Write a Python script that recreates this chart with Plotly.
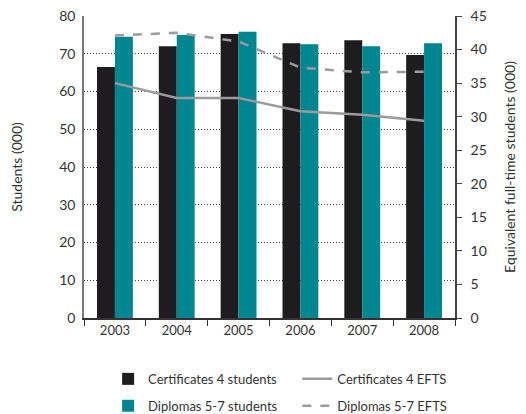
import plotly.graph_objects as go

years = ["2003", "2004", "2005", "2006", "2007", "2008"]
cert_students = [66.5, 72.0, 75.2, 72.8, 73.6, 69.7]
dip_students = [74.5, 75.0, 75.8, 72.5, 72.0, 72.8]
cert_efts = [35.0, 32.8, 32.8, 30.8, 30.3, 29.4]
dip_efts = [42.1, 42.5, 41.2, 37.3, 36.6, 36.7]

FONT = "Lato"
TXT = "#333333"
BLACK = "#1f1c20"
TEAL = "#008691"
GREY = "#9b9b9b"

fig = go.Figure()
fig.add_trace(go.Bar(x=years, y=cert_students, name="Certificates 4 students",
                     legend="legend", legendgroup="a",
                     marker=dict(color=BLACK, line=dict(width=0))))
fig.add_trace(go.Bar(x=years, y=dip_students, name="Diplomas 5-7 students",
                     legend="legend", legendgroup="b",
                     marker=dict(color=TEAL, line=dict(width=0))))
fig.add_trace(go.Scatter(x=years, y=cert_efts, name="Certificates 4 EFTS", yaxis="y2",
                         legend="legend2", legendgroup="c",
                         mode="lines", line=dict(color=GREY, width=2.5)))
fig.add_trace(go.Scatter(x=years, y=dip_efts, name="Diplomas 5-7 EFTS", yaxis="y2",
                         legend="legend2", legendgroup="d",
                         mode="lines", line=dict(color=GREY, width=2.5, dash="dash")))

legend_common = dict(orientation="v", y=-0.152, yanchor="top", xanchor="left",
                     font=dict(family=FONT, size=13, color=TXT),
                     traceorder="grouped", tracegroupgap=7, itemwidth=30,
                     bgcolor="rgba(0,0,0,0)")

fig.update_layout(
    width=526, height=414,
    margin=dict(l=76, r=79, t=8, b=104, autoexpand=False),
    paper_bgcolor="white", plot_bgcolor="white",
    font=dict(family=FONT, size=13, color=TXT),
    barmode="group", bargap=0.42, bargroupgap=0,
    showlegend=True,
    legend=dict(x=0.065, **legend_common),
    legend2=dict(x=0.575, **legend_common),
    xaxis=dict(type="category", tickson="boundaries", ticks="outside", ticklen=6,
               tickcolor=TXT, showline=True, linecolor=TXT, linewidth=1.5,
               showgrid=False, automargin=False, tickfont=dict(size=13, color=TXT)),
    yaxis=dict(range=[0, 80], dtick=10, showline=True, linecolor="#777777", linewidth=1.5,
               showgrid=True, gridcolor="#444444", griddash="1px,2px", gridwidth=1,
               ticks="", zeroline=False, automargin=False, ticklabelstandoff=4,
               ticklabeloverflow="allow",
               title=dict(text="Students (000)", font=dict(size=14, color=TXT), standoff=34),
               tickfont=dict(size=14, color=TXT)),
    yaxis2=dict(range=[0, 45], dtick=5, overlaying="y", side="right", showline=True,
                linecolor="#444444", linewidth=1.5, showgrid=False, zeroline=False,
                ticks="outside", ticklen=5, tickcolor="#444444", automargin=False,
                ticklabelstandoff=6, ticklabeloverflow="allow",
                title=dict(text="Equivalent full-time students (000)",
                           font=dict(size=14, color=TXT), standoff=19),
                tickfont=dict(size=14, color=TXT)),
)

fig.write_html("out.html")
